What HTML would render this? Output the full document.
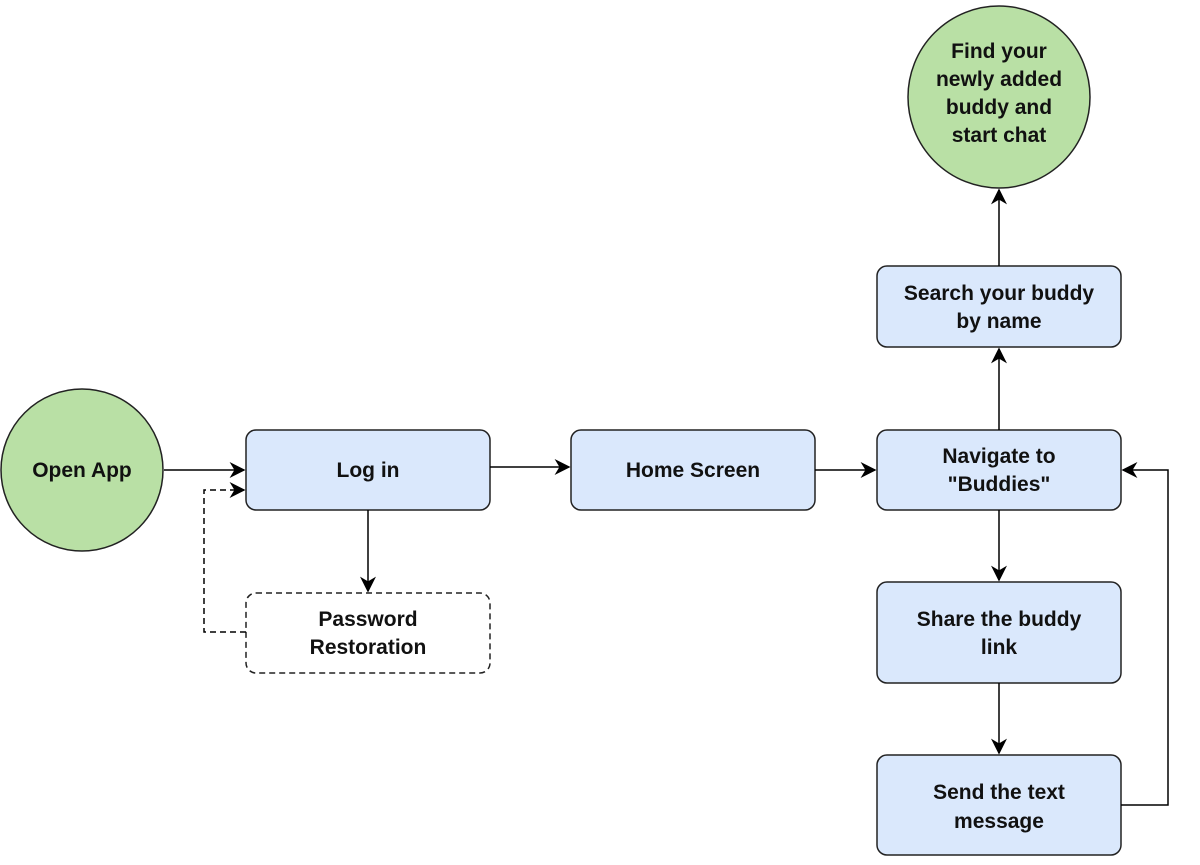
<!DOCTYPE html>
<html><head><meta charset="utf-8"><style>
body{margin:0;background:#fff}
text{font-family:"Liberation Sans",Arial,Helvetica,sans-serif;font-weight:bold;font-size:21px;fill:#111}
</style></head><body>
<svg width="1200" height="860" viewBox="0 0 1200 860" xmlns="http://www.w3.org/2000/svg">
<defs>
<marker id="b" viewBox="0 0 10 10" refX="9" refY="5" markerWidth="16" markerHeight="16" markerUnits="userSpaceOnUse" orient="auto">
<path d="M0,0 L10,5 L0,10 L3,5 Z" fill="#000"/></marker>
</defs>
<g stroke="#222" stroke-width="1.5">
<circle cx="82" cy="470" r="81" fill="#b9e0a5"/>
<circle cx="999" cy="97" r="91" fill="#b9e0a5"/>
<rect x="246" y="430" width="244" height="80" rx="10" fill="#dae8fc"/>
<rect x="571" y="430" width="244" height="80" rx="10" fill="#dae8fc"/>
<rect x="877" y="430" width="244" height="80" rx="10" fill="#dae8fc"/>
<rect x="877" y="266" width="244" height="81" rx="10" fill="#dae8fc"/>
<rect x="877" y="582" width="244" height="101" rx="10" fill="#dae8fc"/>
<rect x="877" y="755" width="244" height="100" rx="10" fill="#dae8fc"/>
<rect x="246" y="593" width="244" height="80" rx="10" fill="#fff" stroke-dasharray="6,4"/>
</g>
<g stroke="#000" stroke-width="1.5" fill="none">
<line x1="164" y1="470" x2="244" y2="470" marker-end="url(#b)"/>
<polyline points="246,632 204,632 204,490 244,490" stroke-dasharray="6,4" marker-end="url(#b)"/>
<line x1="368" y1="510" x2="368" y2="591" marker-end="url(#b)"/>
<line x1="490" y1="467" x2="569" y2="467" marker-end="url(#b)"/>
<line x1="815" y1="470" x2="875" y2="470" marker-end="url(#b)"/>
<line x1="999" y1="430" x2="999" y2="349" marker-end="url(#b)"/>
<line x1="999" y1="266" x2="999" y2="190" marker-end="url(#b)"/>
<line x1="999" y1="510" x2="999" y2="580" marker-end="url(#b)"/>
<line x1="999" y1="683" x2="999" y2="753" marker-end="url(#b)"/>
<polyline points="1121,805 1168,805 1168,470 1123,470" marker-end="url(#b)"/>
</g>
<g text-anchor="middle" font-family="Liberation Sans, Arial, sans-serif" font-weight="bold" font-size="21">
<text x="82" y="477">Open App</text>
<text x="368" y="477">Log in</text>
<text x="693" y="477">Home Screen</text>
<text x="999" y="463">Navigate to</text>
<text x="999" y="491">"Buddies"</text>
<text x="999" y="300">Search your buddy</text>
<text x="999" y="328">by name</text>
<text x="999" y="626">Share the buddy</text>
<text x="999" y="654">link</text>
<text x="999" y="799">Send the text</text>
<text x="999" y="828">message</text>
<text x="368" y="626">Password</text>
<text x="368" y="654">Restoration</text>
<text x="999" y="58">Find your</text>
<text x="999" y="86">newly added</text>
<text x="999" y="114">buddy and</text>
<text x="999" y="142">start chat</text>
</g>
</svg>
</body></html>
